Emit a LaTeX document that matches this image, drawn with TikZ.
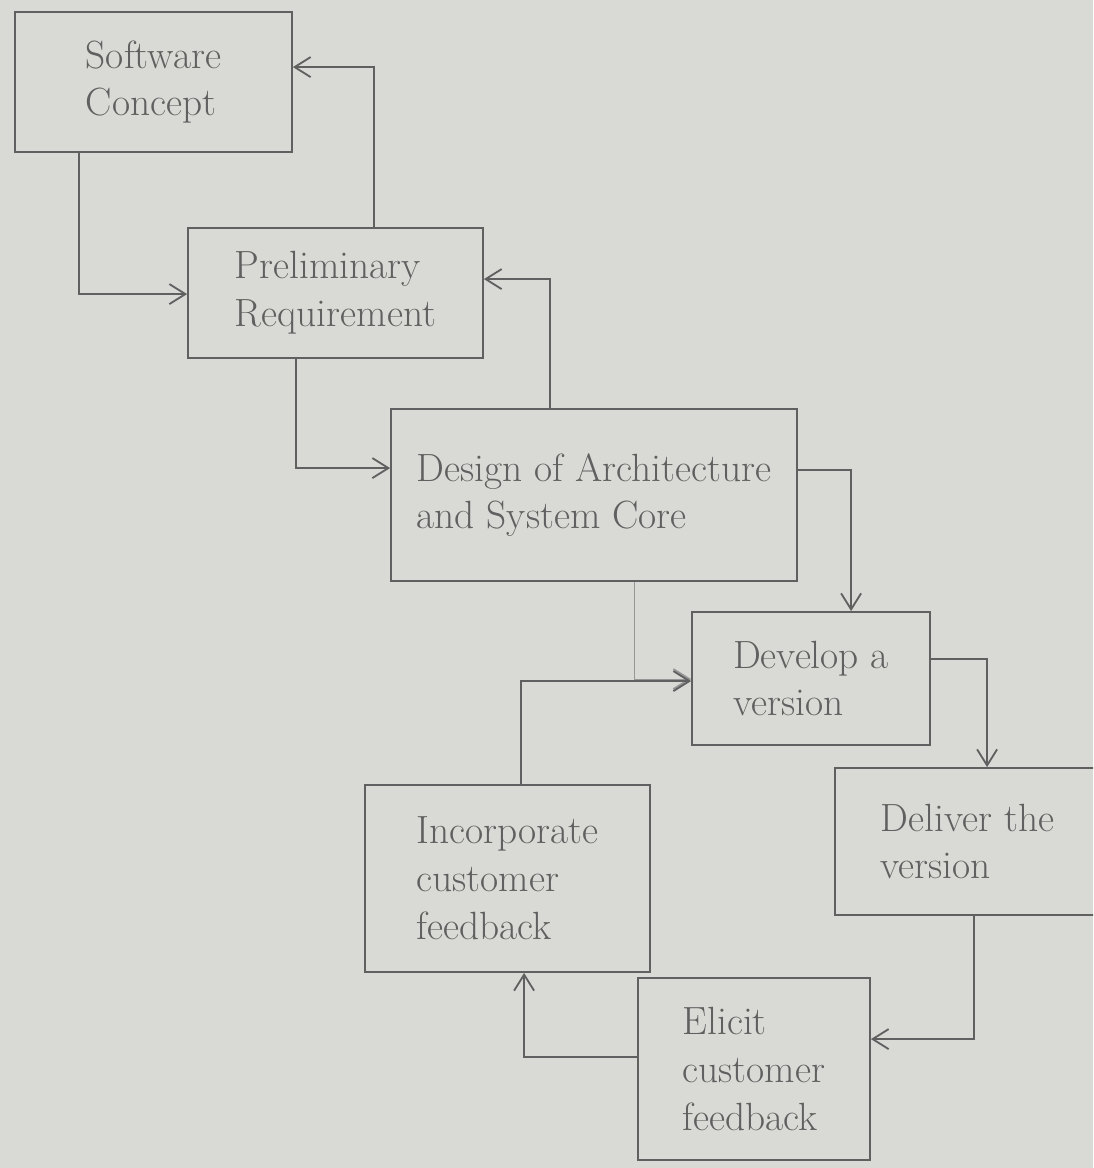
\documentclass[tikz,border=0pt]{standalone}
\usetikzlibrary{arrows.meta,calc}
\definecolor{paper}{RGB}{217,217,214}
\definecolor{pencil}{RGB}{96,96,96}
\definecolor{faint}{RGB}{150,150,150}
\begin{document}
\begin{tikzpicture}[x=0.025cm,y=-0.025cm,
  stage/.style={draw=pencil,line width=1.3pt,rectangle,align=left,
    text=pencil,font=\fontsize{28}{34}\selectfont,inner sep=6pt},
  link/.style={draw=pencil,line width=1.3pt,
    -{Straight Barb[length=4mm,width=5mm,line width=1.3pt]}},
  weak/.style={link,draw=faint,line width=0.8pt}]
  % sheet of paper
  \fill[paper] (0,0) rectangle (1093,1168);
  \useasboundingbox (0,0) rectangle (1093,1168);
  \clip (0,0) rectangle (1093,1168);

  % stages
  \node[stage,minimum width={277*0.025cm},minimum height={140*0.025cm}] (sc) at (153.5,82) {Software\\Concept};
  \node[stage,minimum width={295*0.025cm},minimum height={130*0.025cm}] (pr) at (335.5,293) {Preliminary\\Requirement};
  \node[stage,minimum width={406*0.025cm},minimum height={172*0.025cm}] (da) at (594,495) {Design of Architecture\\and System Core};
  \node[stage,minimum width={238*0.025cm},minimum height={133*0.025cm}] (dv) at (811,678.5) {Develop a\\version};
  \node[stage,minimum width={265*0.025cm},minimum height={147*0.025cm}] (dl) at (967.5,841.5) {Deliver the\\version};
  \node[stage,minimum width={285*0.025cm},minimum height={187*0.025cm}] (ic) at (507.5,878.5) {Incorporate\\customer\\feedback};
  \node[stage,minimum width={232*0.025cm},minimum height={182*0.025cm}] (el) at (754,1069) {Elicit\\customer\\feedback};

  % forward steps and feedback loops
  \draw[link] ($(sc.south west)+(65,0)$) |- ($(pr.north west)+(0,67)$);
  \draw[link] ($(pr.north west)+(187,0)$) |- ($(sc.north east)+(0,56)$);
  \draw[link] ($(pr.south west)+(109,0)$) |- ($(da.north west)+(0,60)$);
  \draw[link] ($(da.north west)+(160,0)$) |- ($(pr.north east)+(0,52)$);
  \draw[link] ($(da.north east)+(0,62)$) -| ($(dv.north west)+(160,0)$);
  \draw[weak] ($(da.south west)+(244,0)$) |- ($(dv.north west)+(0,68)$);
  \draw[link] ($(ic.north west)+(157,0)$) |- ($(dv.north west)+(0,70)$);
  \draw[link] ($(dv.north east)+(0,48)$) -| ($(dl.north west)+(153,0)$);
  \draw[link] ($(dl.south west)+(140,0)$) |- ($(el.north east)+(0,62)$);
  \draw[link] ($(el.north west)+(0,80)$) -| ($(ic.south west)+(160,0)$);
\end{tikzpicture}
\end{document}
